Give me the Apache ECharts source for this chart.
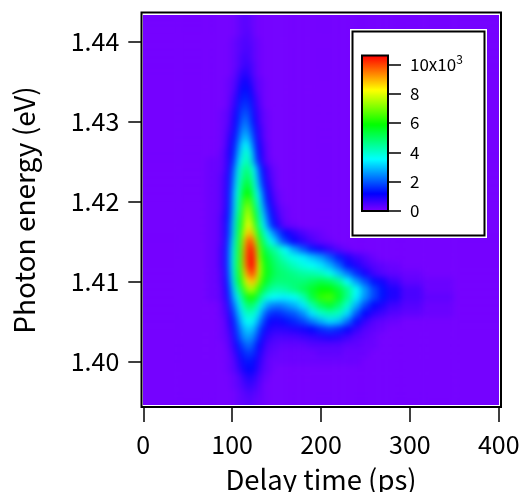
<!DOCTYPE html>
<html><head><meta charset="utf-8">
<style>html,body{margin:0;padding:0;background:#fff}#c{width:527px;height:492px}</style>
<script src="https://cdn.jsdelivr.net/npm/echarts@6/dist/echarts.min.js"></script>
</head><body><div id="c"></div>
<script>
const delayEdges=[-20,40,70,85,92.5,97.5,102.5,107.5,112.5,117.5,122.5,127.5,132.5,137.5,142.5,147.5,152.5,157.5,165,175,185,195,205,215,225,235,245,255,265,275,290,315,350,420];
const energyCenters=[1.443,1.442,1.441,1.440,1.439,1.438,1.437,1.436,1.435,1.434,1.433,1.432,1.431,1.430,1.429,1.428,1.427,1.426,1.425,1.424,1.423,1.422,1.421,1.420,1.419,1.418,1.417,1.416,1.415,1.414,1.413,1.412,1.411,1.410,1.409,1.408,1.407,1.406,1.405,1.404,1.403,1.402,1.401,1.400,1.399,1.398,1.397,1.396,1.395];
// intensity in units of 100 counts, one row per energy
const intensityRows=[
[1,1,1,1,1,1,2,3,4,3,2,1,1,1,1,1,1,1,1,1,1,1,1,1,1,1,1,1,1,1,1,1,1],
[1,1,1,1,1,1,2,3,4,3,2,1,1,1,1,1,1,1,1,1,1,1,1,1,1,1,1,1,1,1,1,1,1],
[1,1,1,1,1,1,2,3,4,4,2,1,1,1,1,1,1,1,1,1,1,1,1,1,1,1,1,1,1,1,1,1,1],
[1,1,1,1,1,2,3,4,5,4,3,2,1,1,1,1,1,1,1,1,1,1,1,1,1,1,1,1,1,1,1,1,1],
[1,1,1,1,1,2,3,4,5,5,3,2,1,1,1,1,1,1,1,1,1,1,1,1,1,1,1,1,1,1,1,1,1],
[1,1,1,1,1,2,3,5,6,5,3,2,1,1,1,1,1,1,1,1,1,1,1,1,1,1,1,1,1,1,1,1,1],
[1,1,1,1,1,2,3,5,7,6,4,2,1,1,1,1,1,1,1,1,1,1,1,1,1,1,1,1,1,1,1,1,1],
[1,1,1,1,1,2,4,7,9,7,4,2,1,1,1,1,1,1,1,1,1,1,1,1,1,1,1,1,1,1,1,1,1],
[1,1,1,1,2,3,5,9,11,9,5,3,2,1,1,1,1,1,1,1,1,1,1,1,1,1,1,1,1,1,1,1,1],
[1,1,1,1,2,3,6,11,13,11,6,3,2,1,1,1,1,1,1,1,1,1,1,1,1,1,1,1,1,1,1,1,1],
[1,1,1,1,2,4,8,13,15,13,8,4,2,1,1,1,1,1,1,1,1,1,1,1,1,1,1,1,1,1,1,1,1],
[1,1,1,1,2,5,9,15,17,15,9,5,2,1,1,1,1,1,1,1,1,1,1,1,1,1,1,1,1,1,1,1,1],
[1,1,1,2,3,6,11,17,20,17,10,6,3,2,1,1,1,1,1,1,1,1,1,1,1,1,1,1,1,1,1,1,1],
[1,1,1,2,3,7,12,19,23,19,12,6,3,2,1,1,1,1,1,1,1,1,1,1,1,1,1,1,1,1,1,1,1],
[1,1,1,2,4,8,13,22,26,22,14,8,4,2,1,1,1,1,1,1,1,1,1,1,1,1,1,1,1,1,1,1,1],
[1,1,1,2,5,10,15,25,30,26,16,9,4,2,1,1,1,1,1,1,1,1,1,1,1,1,1,1,1,1,1,1,1],
[1,1,1,2,6,11,18,29,36,31,19,11,5,3,1,1,1,1,1,1,1,1,1,1,1,1,1,1,1,1,1,1,1],
[1,1,1,3,7,12,21,32,41,37,23,12,6,3,1,1,1,1,1,1,1,1,1,1,1,1,1,1,1,1,1,1,1],
[1,1,2,3,7,13,24,35,44,40,26,14,7,3,2,1,1,1,1,1,1,1,1,1,1,1,1,1,1,1,1,1,1],
[1,1,2,3,8,15,29,40,48,46,35,21,11,6,3,2,1,1,1,1,1,1,1,1,1,1,1,1,1,1,1,1,1],
[1,1,2,4,9,17,31,42,51,50,38,25,13,7,4,2,1,1,1,1,1,1,1,1,1,1,1,1,1,1,1,1,1],
[1,1,2,4,9,18,33,45,55,54,41,29,15,9,5,2,1,1,1,1,1,1,1,1,1,1,1,1,1,1,1,1,1],
[1,1,2,4,10,20,35,48,59,59,45,34,20,11,6,3,2,1,1,1,1,1,1,1,1,1,1,1,1,1,1,1,1],
[1,1,2,4,10,21,37,51,65,66,50,38,24,13,8,4,2,1,1,1,1,1,1,1,1,1,1,1,1,1,1,1,1],
[1,1,2,4,11,22,38,53,70,73,55,42,28,17,10,6,3,2,1,1,1,1,1,1,1,1,1,1,1,1,1,1,1],
[1,1,2,5,12,24,41,56,73,78,61,46,32,21,13,8,4,2,1,1,1,1,1,1,1,1,1,1,1,1,1,1,1],
[1,1,2,5,13,26,43,58,76,83,67,50,36,25,16,11,6,3,2,1,1,1,1,1,1,1,1,1,1,1,1,1,1],
[1,1,2,5,13,27,44,61,81,92,77,56,44,34,27,21,16,12,8,5,3,2,1,1,1,1,1,1,1,1,1,1,1],
[1,1,2,5,14,30,46,64,88,104,90,65,50,42,35,29,22,17,11,8,5,3,2,1,1,1,1,1,1,1,1,1,1],
[1,1,2,6,15,32,48,65,92,110,100,72,56,49,46,43,39,35,27,20,14,10,7,4,2,1,1,1,1,1,1,1,1],
[1,1,2,6,15,33,49,66,94,112,104,76,59,54,50,47,44,40,37,34,30,26,20,14,9,6,4,2,1,1,1,1,1],
[1,1,2,6,15,33,50,66,92,106,105,80,62,56,52,49,47,45,41,38,36,33,28,21,13,9,6,4,3,2,1,1,1],
[1,1,2,5,14,32,49,63,87,99,100,79,63,57,53,50,49,48,46,44,43,41,37,30,23,16,10,6,4,3,2,1,1],
[1,1,2,5,13,30,46,59,78,88,89,73,60,54,50,48,48,48,48,48,50,52,50,45,35,26,19,13,10,6,3,2,1],
[1,1,2,4,12,26,40,52,67,75,73,62,52,47,44,43,43,44,47,51,55,59,59,54,46,36,26,18,13,9,5,2,1],
[1,1,2,4,10,22,33,43,55,61,60,50,42,38,36,35,34,34,36,42,53,63,65,56,46,34,25,18,13,9,5,3,1],
[1,1,1,3,8,18,27,37,47,50,48,40,32,26,24,23,23,25,28,33,43,51,55,49,40,28,18,12,9,6,4,2,1],
[1,1,1,3,6,14,23,32,40,42,40,33,24,18,16,15,16,18,20,25,33,40,43,41,32,20,12,8,6,4,3,2,1],
[1,1,1,2,5,11,19,28,35,37,34,26,19,13,11,10,11,13,15,18,23,28,32,30,22,13,7,4,3,2,1,1,1],
[1,1,1,2,4,9,16,24,30,31,28,20,14,10,8,8,8,8,9,10,12,15,17,15,11,7,4,3,2,1,1,1,1],
[1,1,1,2,3,7,14,21,26,26,23,16,10,7,6,5,5,5,5,6,7,8,9,8,6,4,3,2,1,1,1,1,1],
[1,1,1,1,3,5,11,16,20,22,18,12,8,5,4,4,3,3,3,3,4,4,4,4,3,3,2,2,1,1,1,1,1],
[1,1,1,1,2,4,8,13,16,17,15,10,6,4,3,3,2,2,2,2,2,3,3,3,2,2,2,1,1,1,1,1,1],
[1,1,1,1,2,3,6,10,13,14,12,8,5,3,2,2,2,2,2,2,2,2,2,2,2,2,1,1,1,1,1,1,1],
[1,1,1,1,2,3,5,8,11,12,11,7,4,3,2,1,1,1,1,1,1,1,1,1,1,1,1,1,1,1,1,1,1],
[1,1,1,1,1,2,3,5,8,9,8,5,3,2,1,1,1,1,1,1,1,1,1,1,1,1,1,1,1,1,1,1,1],
[1,1,1,1,1,2,3,4,6,7,6,4,2,1,1,1,1,1,1,1,1,1,1,1,1,1,1,1,1,1,1,1,1],
[1,1,1,1,1,1,2,3,4,5,4,3,2,1,1,1,1,1,1,1,1,1,1,1,1,1,1,1,1,1,1,1,1],
[1,1,1,1,1,1,2,3,3,4,3,2,2,1,1,1,1,1,1,1,1,1,1,1,1,1,1,1,1,1,1,1,1]
];
const delayTicks=[0,100,200,300,400];
const energyTicks=[1.40,1.41,1.42,1.43,1.44];
const legendTicks=[0,2,4,6,8,10];
const rainbow=['#7f00ff','#0000ff','#007fff','#00ffff','#00ff7f','#00ff00','#7fff00','#ffff00','#ff7f00','#ff0000'];
const FONT='"Noto Sans CJK JP"';

const cells=[];
energyCenters.forEach((e,r)=>{
  intensityRows[r].forEach((v,c)=>{
    const hi=r===0?e+0.003:e+0.0005;
    const lo=r===energyCenters.length-1?e-0.003:e-0.0005;
    cells.push([delayEdges[c],delayEdges[c+1],lo,hi,v/10]);
  });
});

const chart=echarts.init(document.getElementById('c'),null,{renderer:'canvas'});
chart.setOption({
  animation:false,
  backgroundColor:'#fff',
  grid:[
    {left:143.3,top:15,width:355.4,height:390,zlevel:2,outerBoundsMode:'none'},
    {left:362,top:55.5,width:26,height:155.5,show:true,z:7,zlevel:2,outerBoundsMode:'none',borderColor:'#000',borderWidth:2,backgroundColor:'transparent'}
  ],
  xAxis:[
    {type:'value',gridIndex:0,min:0,max:400,interval:100,offset:2,z:6,zlevel:2,
     name:'Delay time (ps)',nameLocation:'middle',nameGap:59,
     nameTextStyle:{fontFamily:FONT,fontSize:27.5,color:'#000'},
     axisLine:{show:false,onZero:false},splitLine:{show:false},
     axisTick:{show:true,length:15,lineStyle:{color:'#000',width:1.5},customValues:delayTicks},
     axisLabel:{fontFamily:FONT,fontSize:25,color:'#000',margin:25,customValues:delayTicks,hideOverlap:false,showMinLabel:true,showMaxLabel:true}},
    {type:'value',gridIndex:1,min:0,max:1,show:false}
  ],
  yAxis:[
    {type:'value',gridIndex:0,min:1.3946,max:1.4433,offset:2,z:6,zlevel:2,
     name:'Photon energy (eV)',nameLocation:'middle',nameGap:103,
     nameTextStyle:{fontFamily:FONT,fontSize:28,color:'#000'},
     axisLine:{show:false,onZero:false},splitLine:{show:false},
     axisTick:{show:true,length:13,lineStyle:{color:'#000',width:1.5},customValues:energyTicks},
     axisLabel:{fontFamily:FONT,fontSize:25,color:'#000',margin:22,customValues:energyTicks,formatter:v=>v.toFixed(2)}},
    {type:'value',gridIndex:1,min:0,max:10.6,position:'right',z:7,zlevel:2,
     axisLine:{show:false,onZero:false},splitLine:{show:false},
     axisTick:{show:true,length:13,lineStyle:{color:'#000',width:1.5},customValues:legendTicks},
     axisLabel:{fontFamily:FONT,fontSize:17,color:'#000',margin:22,customValues:legendTicks,
       formatter:v=>v===10?'{a|10x10}{s|3}':String(v),
       rich:{a:{fontFamily:FONT,fontSize:17,color:'#000'},s:{fontFamily:FONT,fontSize:12,color:'#000',verticalAlign:'top',padding:[0,0,9,0]}}}}
  ],
  visualMap:{
    type:'continuous',show:true,min:0,max:10.6,seriesIndex:0,dimension:4,
    left:362,top:55.5,itemWidth:26,itemHeight:155.5,padding:0,
    calculable:false,realtime:false,hoverLink:false,text:null,z:5,zlevel:2,
    inRange:{color:rainbow},textStyle:{color:'transparent'}
  },
  series:[{
    type:'custom',name:'Intensity',xAxisIndex:0,yAxisIndex:0,clip:false,silent:true,zlevel:1,
    encode:{x:[0,1],y:[2,3]},data:cells,z:2,
    renderItem:function(params,api){
      const a=api.coord([api.value(0),api.value(3)]);
      const b=api.coord([api.value(1),api.value(2)]);
      const c=api.visual('color');
      return {type:'rect',
        shape:{x:a[0],y:a[1],width:b[0]-a[0],height:b[1]-a[1]},
        style:{fill:c,stroke:c,lineWidth:0.6}};
    }
  }],
  graphic:[
    {type:'rect',silent:true,z:4,zlevel:2,shape:{x:350,y:29,width:137,height:209},style:{fill:'#fff'}},
    {type:'rect',silent:true,z:4,zlevel:2,shape:{x:352.5,y:31.5,width:132,height:204},style:{fill:'none',stroke:'#000',lineWidth:2}},
    {type:'rect',silent:true,z:6,zlevel:2,shape:{x:141.5,y:12.5,width:359.5,height:394.5},style:{fill:'none',stroke:'#000',lineWidth:2}}
  ]
});
const heatLayer=document.querySelector('canvas[data-zr-dom-id="zr_1"]');
if(heatLayer){
  heatLayer.style.filter='blur(3px)';
  heatLayer.style.clipPath='inset(15px 28.3px 87px 143.3px)';
}
</script></body></html>
